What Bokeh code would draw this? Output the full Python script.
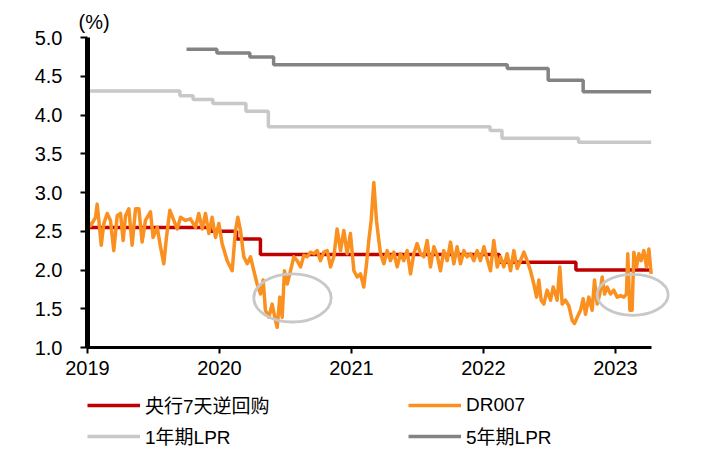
from bokeh.plotting import figure
from bokeh.layouts import column
from bokeh.models import FixedTicker, NumeralTickFormatter, Legend, LegendItem, Title, Range1d
from bokeh.embed import file_html
from bokeh.resources import INLINE

# ---- data (x in fractional years) ----
end_t = 2023.27

repo_t = [2019.0, 2019.93, 2020.13, 2020.31, 2022.12, 2022.70]
repo_v = [2.55, 2.50, 2.40, 2.20, 2.10, 2.00]

lpr1_t = [2019.0, 2019.70, 2019.80, 2019.95, 2020.20, 2020.37, 2022.05, 2022.14, 2022.72]
lpr1_v = [4.31, 4.25, 4.20, 4.15, 4.05, 3.85, 3.80, 3.70, 3.65]

lpr5_t = [2019.75, 2019.98, 2020.23, 2020.41, 2022.18, 2022.49, 2022.755]
lpr5_v = [4.85, 4.80, 4.75, 4.65, 4.60, 4.45, 4.30]

dr_t = [2019.000, 2019.023, 2019.061, 2019.073, 2019.086, 2019.104, 2019.124, 2019.149,
        2019.174, 2019.199, 2019.225, 2019.250, 2019.270, 2019.288, 2019.313, 2019.338,
        2019.364, 2019.389, 2019.414, 2019.439, 2019.477, 2019.497, 2019.528, 2019.553,
        2019.578, 2019.598, 2019.624, 2019.654, 2019.679, 2019.705, 2019.742, 2019.780,
        2019.818, 2019.843, 2019.869, 2019.894, 2019.919, 2019.944, 2019.970, 2019.995,
        2020.020, 2020.058, 2020.096, 2020.121, 2020.139, 2020.159, 2020.184, 2020.210,
        2020.235, 2020.260, 2020.285, 2020.311, 2020.331, 2020.348, 2020.374, 2020.399,
        2020.424, 2020.437, 2020.457, 2020.475, 2020.492, 2020.513, 2020.538, 2020.563,
        2020.588, 2020.614, 2020.639, 2020.664, 2020.689, 2020.715, 2020.740, 2020.765,
        2020.790, 2020.816, 2020.841, 2020.866, 2020.891, 2020.917, 2020.942, 2020.967,
        2020.992, 2021.018, 2021.043, 2021.068, 2021.093, 2021.114, 2021.131, 2021.149,
        2021.169, 2021.189, 2021.207,
        2021.220, 2021.245, 2021.270, 2021.295, 2021.321, 2021.346, 2021.371, 2021.396,
        2021.422, 2021.447, 2021.472, 2021.497, 2021.523, 2021.548, 2021.573, 2021.598,
        2021.624, 2021.649, 2021.674, 2021.699, 2021.725, 2021.750, 2021.775, 2021.800,
        2021.826, 2021.851, 2021.876, 2021.902, 2021.927, 2021.952, 2021.977, 2022.003,
        2022.028, 2022.053, 2022.078, 2022.104, 2022.129, 2022.154, 2022.179, 2022.205,
        2022.230, 2022.255, 2022.280, 2022.306, 2022.331, 2022.356, 2022.381, 2022.402,
        2022.419, 2022.437, 2022.457, 2022.482, 2022.508, 2022.528, 2022.545, 2022.558,
        2022.578, 2022.596, 2022.621, 2022.646, 2022.672, 2022.689, 2022.710, 2022.735,
        2022.755, 2022.773, 2022.798, 2022.823, 2022.841, 2022.861, 2022.881, 2022.899,
        2022.917, 2022.937, 2022.962, 2022.987, 2023.013, 2023.038, 2023.063, 2023.083,
        2023.093, 2023.109, 2023.126, 2023.139, 2023.159, 2023.177, 2023.194, 2023.215,
        2023.235, 2023.253, 2023.270]
dr_v = [2.64, 2.57, 2.68, 2.85, 2.64, 2.32, 2.60, 2.73,
        2.64, 2.25, 2.70, 2.73, 2.38, 2.70, 2.79, 2.32,
        2.79, 2.79, 2.36, 2.64, 2.75, 2.42, 2.55, 2.30,
        2.08, 2.42, 2.77, 2.64, 2.53, 2.68, 2.64, 2.66,
        2.55, 2.73, 2.53, 2.73, 2.47, 2.68, 2.42, 2.60,
        2.34, 2.12, 1.99, 2.51, 2.68, 2.51, 2.17, 2.08,
        2.17, 1.99, 1.82, 1.69, 1.87, 1.48, 1.39, 1.56,
        1.35, 1.26, 1.65, 1.39, 1.99, 1.82, 1.99, 2.17,
        2.12, 2.04, 2.19, 2.17, 2.23, 2.21, 2.25, 2.12,
        2.23, 2.25, 2.04, 2.17, 2.53, 2.25, 2.51, 2.21,
        2.47, 1.99, 1.91, 1.95, 1.78, 2.08, 2.38, 2.64,
        3.13, 2.64, 2.38,
        2.21, 2.08, 2.25, 2.12, 2.23, 2.04, 2.21, 2.12,
        2.25, 1.95, 2.21, 2.34, 2.21, 2.17, 2.38, 2.04,
        2.30, 2.19, 1.99, 2.25, 2.12, 2.36, 2.08, 2.30,
        2.08, 2.25, 2.17, 2.21, 2.12, 2.25, 2.12, 2.30,
        2.14, 1.99, 2.38, 2.04, 2.17, 2.04, 2.21, 1.99,
        2.25, 2.02, 2.12, 2.23, 2.12, 1.99, 1.82, 1.65,
        1.87, 1.61, 1.56, 1.74, 1.61, 1.78, 1.69, 1.61,
        2.04, 1.56, 1.61, 1.54, 1.35, 1.31, 1.39, 1.48,
        1.63, 1.43, 1.65, 1.48, 1.87, 1.56, 1.69, 1.91,
        1.69, 1.78, 1.69, 1.74, 1.65, 1.67, 1.65, 1.69,
        2.21, 1.48, 1.48, 2.23, 2.04, 2.21, 2.12, 2.25,
        2.04, 2.27, 1.95]

circle_x = [2020.553, 2023.130]
circle_y = [1.64, 1.68]
circle_w = [0.586, 0.538]
circle_h = [0.623, 0.529]

x_ticks = [2019, 2020, 2021, 2022, 2023]
y_ticks = [1.0, 1.5, 2.0, 2.5, 3.0, 3.5, 4.0, 4.5, 5.0]

labels = ["央行7天逆回购", "DR007", "1年期LPR", "5年期LPR"]
colors = ["#C00000", "#FA9020", "#C8C8C8", "#838383"]

FONT = "Liberation Sans, Noto Sans CJK SC"
LW = 3.5

def steps(ts, vs):
    return ts + [end_t], vs + [vs[-1]]

x5, y5 = steps(lpr5_t, lpr5_v)
x1, y1 = steps(lpr1_t, lpr1_v)
xr, yr = steps(repo_t, repo_v)
series = [(xr, yr, "step"), (dr_t, dr_v, "line"), (x1, y1, "step"), (x5, y5, "step")]

p = figure(frame_width=594, frame_height=310, output_backend="svg", toolbar_location=None,
           x_range=Range1d(2019.0, 2023.5), y_range=Range1d(1.0, 5.0),
           min_border_left=87, min_border_top=37, min_border_right=6, min_border_bottom=30)
p.outline_line_color = None
p.xgrid.visible = False
p.ygrid.visible = False
p.background_fill_color = "white"
p.border_fill_color = "white"

for idx in [3, 2, 0, 1]:
    xs, ys, kind = series[idx]
    if kind == "step":
        p.step(xs, ys, mode="after", line_color=colors[idx], line_width=LW)
    else:
        p.line(xs, ys, line_color=colors[idx], line_width=LW, line_join="round")
p.ellipse(circle_x, circle_y, width=circle_w, height=circle_h, fill_alpha=0,
          line_color="#C8C8C8", line_width=2.8)

# axes
p.yaxis.ticker = FixedTicker(ticks=y_ticks)
p.yaxis.formatter = NumeralTickFormatter(format="0.0")
p.yaxis.axis_line_width = 5
p.yaxis.axis_line_color = "black"
p.yaxis.major_tick_line_width = 2
p.yaxis.major_tick_out = 7
p.yaxis.major_tick_in = 0
p.yaxis.minor_tick_line_color = None
p.yaxis.major_label_standoff = 18
p.yaxis.major_label_text_font = FONT
p.yaxis.major_label_text_font_size = "20px"
p.yaxis.major_label_text_color = "black"

p.xaxis.ticker = FixedTicker(ticks=x_ticks)
p.xaxis.bounds = (2019.0, end_t)
p.xaxis.axis_line_width = 3
p.xaxis.axis_line_color = "black"
p.xaxis.major_tick_line_width = 2
p.xaxis.major_tick_out = 6
p.xaxis.major_tick_in = 0
p.xaxis.minor_tick_line_color = None
p.xaxis.major_label_standoff = 7
p.xaxis.major_label_text_font = FONT
p.xaxis.major_label_text_font_size = "20px"
p.xaxis.major_label_text_color = "black"

p.title = Title(text="(%)", align="left", offset=-9, text_font=FONT, text_font_size="20px",
                text_font_style="normal", text_color="black", standoff=10)

# legend in a separate strip below the chart (same series, drawn off its visible range)
lg = figure(width=687, height=75, output_backend="svg", toolbar_location=None,
            x_range=Range1d(0, 1), y_range=Range1d(0, 1),
            x_axis_type=None, y_axis_type=None,
            min_border_left=85, min_border_top=14, min_border_right=0, min_border_bottom=0)
lg.outline_line_color = None
lg.xgrid.visible = False
lg.ygrid.visible = False
lg.background_fill_color = "white"
lg.border_fill_color = "white"
items = []
for idx, lab in enumerate(labels):
    xs, ys, kind = series[idx]
    r = lg.line(xs, ys, line_color=colors[idx], line_width=LW)
    items.append(LegendItem(label=lab, renderers=[r]))

legend = Legend(items=items, orientation="horizontal", ncols=2, location="top_left")
legend.glyph_width = 53
legend.glyph_height = 24
legend.label_height = 24
legend.label_width = 259
legend.label_standoff = 5
legend.spacing = 4
legend.padding = 0
legend.margin = 0
legend.border_line_color = None
legend.background_fill_alpha = 0
legend.label_text_font = FONT
legend.label_text_font_size = "19px"
legend.label_text_color = "black"
lg.add_layout(legend)

open("out.html", "w").write(file_html(column(p, lg), INLINE))
